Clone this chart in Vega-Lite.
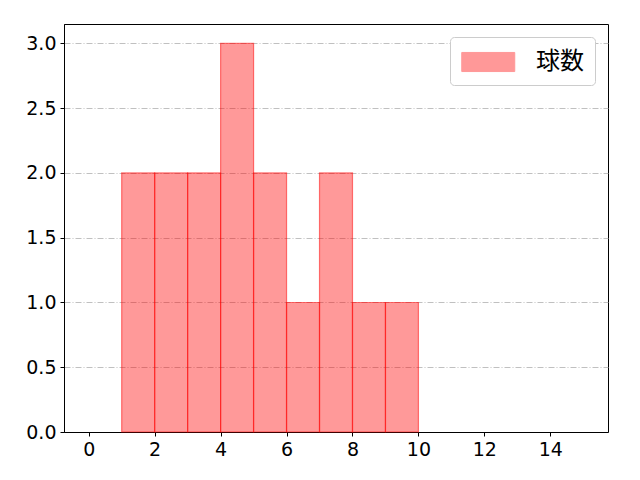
{
  "$schema": "https://vega.github.io/schema/vega-lite/v6.json",
  "width": 544,
  "height": 408,
  "autosize": {"type": "none"},
  "padding": {"left": 64, "top": 24, "right": 32, "bottom": 48},
  "background": "white",
  "data": {
    "values": [
      {"bin_start": 1, "bin_end": 2, "count": 2, "series": "球数"},
      {"bin_start": 2, "bin_end": 3, "count": 2, "series": "球数"},
      {"bin_start": 3, "bin_end": 4, "count": 2, "series": "球数"},
      {"bin_start": 4, "bin_end": 5, "count": 3, "series": "球数"},
      {"bin_start": 5, "bin_end": 6, "count": 2, "series": "球数"},
      {"bin_start": 6, "bin_end": 7, "count": 1, "series": "球数"},
      {"bin_start": 7, "bin_end": 8, "count": 2, "series": "球数"},
      {"bin_start": 8, "bin_end": 9, "count": 1, "series": "球数"},
      {"bin_start": 9, "bin_end": 10, "count": 1, "series": "球数"}
    ]
  },
  "config": {
    "font": "Noto Sans CJK JP",
    "view": {"stroke": "black", "strokeWidth": 1},
    "axis": {
      "labelFont": "DejaVu Sans",
      "labelFontSize": 19,
      "labelColor": "black",
      "domainColor": "black",
      "tickColor": "black",
      "tickSize": 4,
      "labelPadding": 4,
      "title": null
    }
  },
  "mark": {
    "type": "bar",
    "orient": "vertical",
    "stroke": "#ff0000",
    "fillOpacity": 0.4,
    "strokeOpacity": 0.5,
    "strokeWidth": 1.2
  },
  "encoding": {
    "x": {
      "field": "bin_start",
      "type": "quantitative",
      "scale": {"domain": [-0.75, 15.75], "nice": false, "zero": false, "padding": 0},
      "axis": {"values": [0, 2, 4, 6, 8, 10, 12, 14], "grid": false, "format": "d", "labelFlush": false}
    },
    "x2": {"field": "bin_end"},
    "y": {
      "field": "count",
      "type": "quantitative",
      "scale": {"domain": [0, 3.15], "nice": false, "padding": 0},
      "axis": {
        "values": [0, 0.5, 1, 1.5, 2, 2.5, 3],
        "format": ".1f",
        "grid": true,
        "gridColor": "#b0b0b0",
        "gridDash": [6, 2, 1, 2],
        "gridWidth": 0.8,
        "labelFlush": false
      }
    },
    "y2": {"datum": 0},
    "color": {
      "field": "series",
      "type": "nominal",
      "scale": {"range": ["#ff0000"]},
      "legend": {
        "title": null,
        "orient": "top-right",
        "offset": 13,
        "labelFont": "Noto Sans CJK JP",
        "labelFontSize": 24,
        "labelColor": "black",
        "labelOffset": 47,
        "symbolType": "M-1,-0.72H3V0.72H-1Z",
        "symbolSize": 702,
        "symbolOpacity": 0.4,
        "symbolStrokeColor": "#ff0000",
        "symbolStrokeWidth": 1,
        "fillColor": "white",
        "strokeColor": "#cccccc",
        "cornerRadius": 4,
        "padding": 11
      }
    }
  }
}
